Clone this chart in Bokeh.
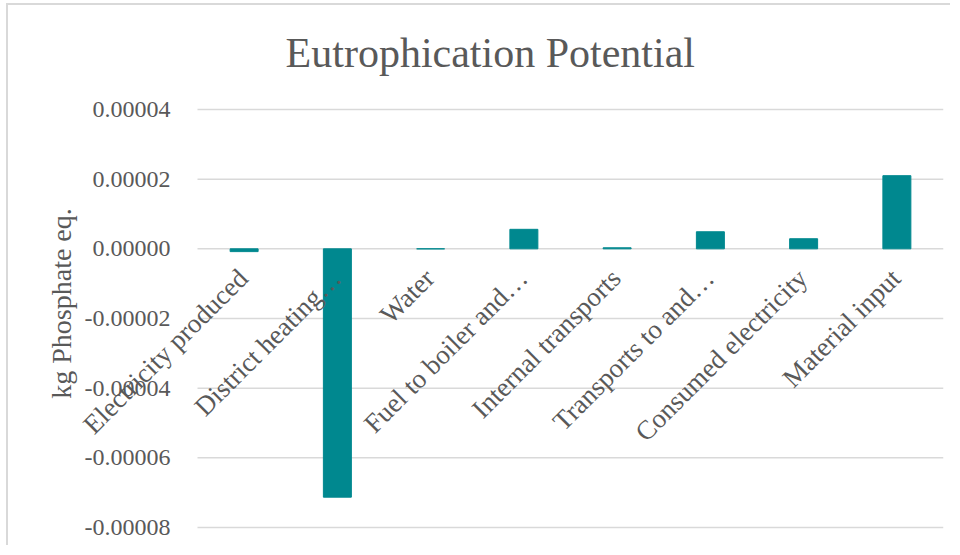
from math import pi
from bokeh.plotting import figure
from bokeh.models import ColumnDataSource, FixedTicker, PrintfTickFormatter, Range1d
from bokeh.core.properties import value
from bokeh.embed import file_html
from bokeh.resources import INLINE

title_text = "Eutrophication Potential"
y_title = "kg Phosphate eq."
categories = ["Electricity produced", "District heating\u2026", "Water", "Fuel to boiler and\u2026",
              "Internal transports", "Transports to and\u2026", "Consumed electricity", "Material input"]
values = [-0.0000008, -0.0000713, 0.0, 0.0000056, 0.0000003, 0.0000049, 0.0000029, 0.0000210]
y_ticks = [-0.00008, -0.00006, -0.00004, -0.00002, 0.0, 0.00002, 0.00004]

FONT = "Liberation Serif"
TXT = "#595959"
BAR = "#00888F"
GRID = "#D9D9D9"

n = len(categories)
xpos = [i + 0.5 for i in range(n)]          # centre of each category slot
src = ColumnDataSource(dict(x=xpos, cat=categories, val=values, zero=[0.0] * n))

# frame is enlarged so that the rotated labels and the axis texts are not clipped
p = figure(x_range=Range1d(-2.0054, n), y_range=Range1d(-0.00008517, 0.000069282),
           width=944, height=542, output_backend="svg", toolbar_location=None,
           min_border_left=2, min_border_right=9, min_border_top=2, min_border_bottom=2)
p.styles = {"margin-left": "6px", "margin-top": "3px",
            "border-left": "2px solid #D9D9D9", "border-top": "2px solid #D9D9D9"}
p.outline_line_color = None
p.background_fill_color = "white"
p.border_fill_color = "white"
p.xaxis.visible = False
p.xgrid.grid_line_color = None
p.ygrid.grid_line_color = None

# horizontal gridlines across the category area only
p.segment(x0=0, x1=n, y0=y_ticks, y1=y_ticks, line_color=GRID, line_width=1.5)

p.vbar(x="x", top="val", bottom=0, width=0.3, source=src, fill_color=BAR, line_color=BAR)

p.text(x="x", y="zero", text="cat", source=src, angle=pi / 4, text_align="right",
       text_baseline="middle", x_offset=-1, y_offset=25, text_font=value(FONT),
       text_font_size="27px", text_color=TXT)

p.text(x=[3.14], y=[0.000056077], text=[title_text], text_align="center",
       text_baseline="alphabetic", text_font=value(FONT), text_font_size="42px",
       text_color=TXT)

ya = p.yaxis[0]
ya.fixed_location = 0
ya.bounds = (-0.00008, 0.00004861)
ya.ticker = FixedTicker(ticks=y_ticks)
ya.formatter = PrintfTickFormatter(format="%.5f")
ya.axis_line_color = None
ya.major_tick_line_color = None
ya.minor_tick_line_color = None
ya.major_tick_out = 0
ya.major_label_standoff = 27
ya.major_label_text_font = FONT
ya.major_label_text_font_size = "24px"
ya.major_label_text_color = TXT
ya.axis_label = y_title
ya.axis_label_text_font = FONT
ya.axis_label_text_font_size = "28px"
ya.axis_label_text_color = TXT
ya.axis_label_text_font_style = "normal"
ya.axis_label_standoff = 5

open("out.html", "w").write(file_html(p, INLINE))
